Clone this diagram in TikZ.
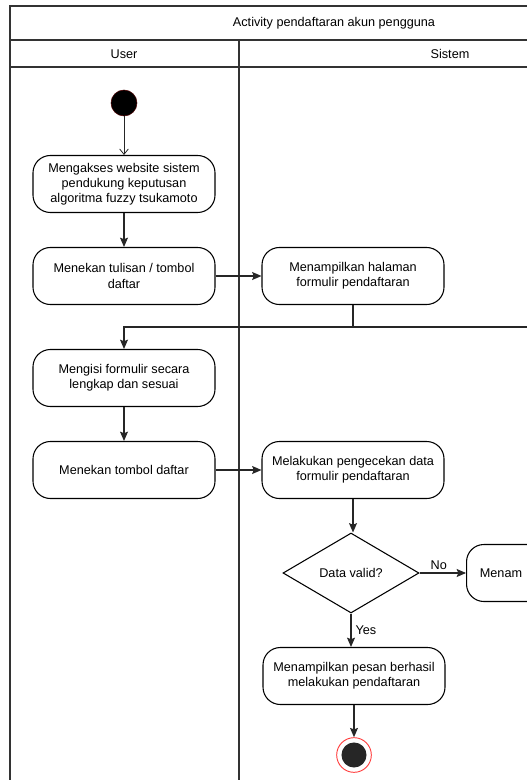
\documentclass[tikz,border=0pt]{standalone}
\usepackage{fontspec}
\setmainfont{Liberation Sans}
\usetikzlibrary{arrows.meta,shapes.geometric}

\tikzset{
  act/.style={draw, line width=0.8pt, rounded corners=13pt, minimum width=136.5pt, minimum height=42.75pt,
    align=center, inner sep=1pt, font=\fontsize{9.5}{11.4}\selectfont},
  decide/.style={draw, line width=0.8pt, diamond, minimum width=102pt, minimum height=60pt, inner sep=0pt,
    font=\fontsize{9.5}{11.4}\selectfont},
  startdot/.style={circle, fill=black, draw=black!70!red, minimum size=19.5pt, inner sep=0pt},
  endring/.style={circle, draw=red!75, line width=0.7pt, minimum size=26pt, inner sep=0pt,
    path picture={\fill[black!85] (path picture bounding box.center) circle (9.4pt);}},
  flow/.style={draw=black!85, line width=0.8pt, -{Stealth[length=7pt,width=6pt,inset=1.2pt]}},
  flowopen/.style={draw=black!85, line width=0.6pt, -{Straight Barb[length=4pt,width=6.5pt]}},
  frame/.style={draw=black!80, line width=1.1pt},
  lbl/.style={font=\fontsize{9.5}{11.4}\selectfont, inner sep=1pt}
}

\begin{document}
\begin{tikzpicture}[x=0.75pt,y=0.75pt,yscale=-1,xscale=1]
    \useasboundingbox (0,0) rectangle (527,780);
    \clip (0,0) rectangle (527,780);

    %Shape: Pool frame
    \draw[frame] (10,790) -- (10,6) -- (540,6);
    \draw[frame] (10,40) -- (540,40);
    \draw[frame] (10,67) -- (540,67);
    \draw[frame] (239,40) -- (239,790);

    % Text Node
    \node[lbl] (title) at (334,23) {Activity pendaftaran akun pengguna};
    \node[lbl] (laneUser) at (124,54) {User};
    \node[lbl] (laneSistem) at (450,54) {Sistem};

    %Shape: Circle
    \node[startdot] (start) at (124,103) {};
    %Shape: Rounded Rect
    \node[act] (akses) at (124,184) {Mengakses website sistem\\pendukung keputusan\\algoritma fuzzy tsukamoto};
    \node[act] (tekanTulisan) at (124,276) {Menekan tulisan / tombol\\daftar};
    \node[act] (tampilForm) at (353,276) {Menampilkan halaman\\formulir pendaftaran};
    \node[act] (isiForm) at (124,378) {Mengisi formulir secara\\lengkap dan sesuai};
    \node[act] (tekanDaftar) at (124,470) {Menekan tombol daftar};
    \node[act] (cekData) at (353,470) {Melakukan pengecekan data\\formulir pendaftaran};
    %Shape: Diamond
    \node[decide] (valid) at (351,573) {Data valid?};
    \node[act, anchor=west, text width=120pt, align=left, inner xsep=10pt] (tampilGagal) at (466,573) {Menam};
    \node[act] (tampilBerhasil) at (354,676) {Menampilkan pesan berhasil\\melakukan pendaftaran};
    %Shape: Final
    \node[endring] (stop) at (354,755) {};

    \coordinate (bend) at (124,327);
    \coordinate (fromRight) at (540,327);

    % Connection
    \draw[flowopen] (start) -- (akses);
    \draw[flow] (akses) -- (tekanTulisan);
    \draw[flow] (tekanTulisan) -- (tampilForm);
    \draw[flow] (tampilForm.south) |- (bend) -- (isiForm);
    \draw[draw=black!85, line width=0.8pt] (fromRight) -- (bend);
    \draw[flow] (isiForm) -- (tekanDaftar);
    \draw[flow] (tekanDaftar) -- (cekData);
    \draw[flow] (cekData.south) -- (cekData.south |- valid.north);
    \draw[flow] (valid) -- node[lbl, above, yshift=1pt, xshift=-3pt] {No} (tampilGagal);
    \draw[flow] (valid.south) -- node[lbl, right, xshift=2pt] {Yes} (valid.south |- tampilBerhasil.north);
    \draw[flow] (tampilBerhasil) -- (stop);

\end{tikzpicture}
\end{document}
